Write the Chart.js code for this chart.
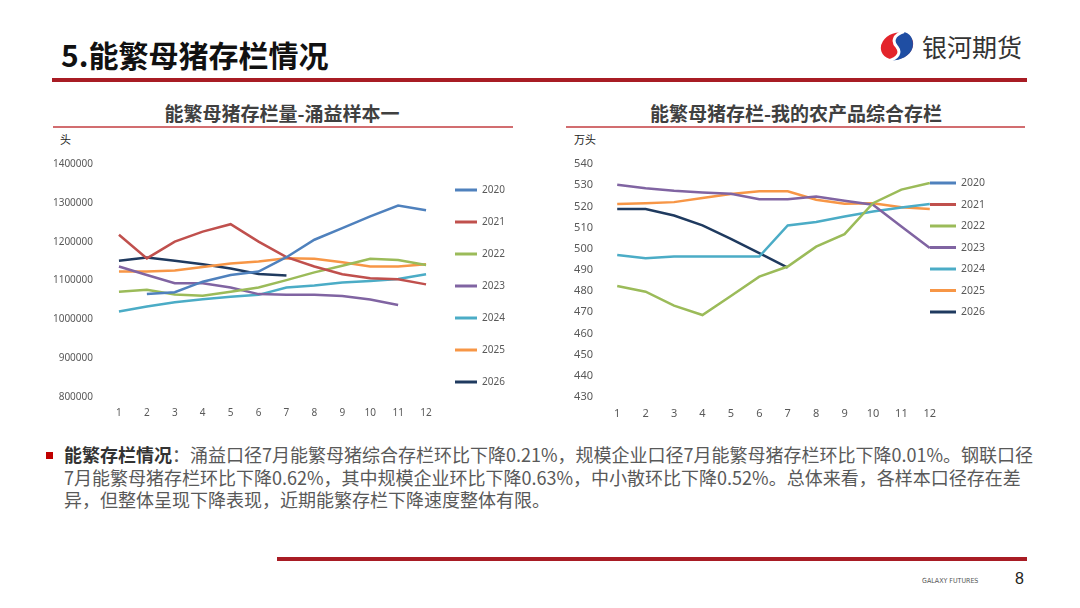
<!DOCTYPE html>
<html>
<head>
<meta charset="utf-8">
<script src="https://cdn.jsdelivr.net/npm/chart.js@4/dist/chart.umd.min.js"></script>
<style>
  body { margin: 0; background: #fff; }
  #page { position: relative; width: 1080px; height: 608px; overflow: hidden; background: #fff;
    font-family: "Noto Sans CJK SC", "Noto Sans", sans-serif; }
  .abs { position: absolute; white-space: nowrap; }
  #title { left: 61px; top: 36px; font-size: 30px; font-weight: bold; color: #111; line-height: 36px; }
  #brand { left: 922px; top: 30px; font-size: 25px; color: #333; line-height: 32px; }
  .redbar { position: absolute; background: #a81c24; }
  .ctitle { font-size: 19px; font-weight: bold; color: #404040; line-height: 22px; transform: translateX(-50%); }
  .cline { position: absolute; height: 1.5px; background: #d26d70; }
  .unit { font-size: 11px; color: #222; line-height: 14px; }
  canvas { position: absolute; }
  #note { left: 64px; top: 443px; font-size: 18px; line-height: 22.7px; color: #595959; }
  #note b { color: #333; }
  #bullet { left: 46px; top: 452px; width: 7px; height: 7px; background: #c00000; }
  #galaxy { left: 922px; top: 577px; font-size: 7px; color: #555; font-family: "Liberation Sans Narrow", "DejaVu Sans Condensed", sans-serif; }
  #pnum { left: 1015px; top: 570px; font-size: 16px; color: #222; font-family: "Liberation Sans", sans-serif; }
</style>
</head>
<body>
<div id="page">
  <div class="abs" id="title">5.能繁母猪存栏情况</div>
  <svg class="abs" style="left:879px;top:30px" width="36" height="32" viewBox="0 0 36 32">
    <ellipse cx="18" cy="16" rx="16.5" ry="13" fill="#e3242b" transform="rotate(-20 18 16)"/>
    <path d="M22 2 C30 1 36 9 33.5 18 C31 26 21 31 11 30.5 C19 27 22 22 18 17 C14 12 15 5 22 2 Z" fill="#1f4ea3"/>
    <path d="M25 1.5 C14 5 13 12 18 17 C22 22 20 28 9 31" fill="none" stroke="#fff" stroke-width="3"/>
  </svg>
  <div class="abs" id="brand">银河期货</div>
  <div class="redbar" style="left:52px;top:78px;width:975px;height:3.5px"></div>

  <div class="abs ctitle" style="left:282px;top:102px">能繁母猪存栏量-涌益样本一</div>
  <div class="cline" style="left:53px;top:126px;width:460px"></div>
  <div class="abs unit" style="left:60px;top:132px">头</div>
  <canvas id="leftChart" style="left:40px;top:130px" width="480" height="295"></canvas>

  <div class="abs ctitle" style="left:796px;top:102px">能繁母猪存栏-我的农产品综合存栏</div>
  <div class="cline" style="left:566px;top:126px;width:459px"></div>
  <div class="abs unit" style="left:574px;top:132px">万头</div>
  <canvas id="rightChart" style="left:550px;top:130px" width="480" height="295"></canvas>

  <div class="abs" id="bullet"></div>
  <div class="abs" id="note"><b>能繁存栏情况</b>：涌益口径7月能繁母猪综合存栏环比下降0.21%，规模企业口径7月能繁母猪存栏环比下降0.01%。钢联口径<br>7月能繁母猪存栏环比下降0.62%，其中规模企业环比下降0.63%，中小散环比下降0.52%。总体来看，各样本口径存在差<br>异，但整体呈现下降表现，近期能繁存栏下降速度整体有限。</div>

  <div class="redbar" style="left:277px;top:557px;width:750px;height:3.5px"></div>
  <div class="abs" id="galaxy">GALAXY FUTURES</div>
  <div class="abs" id="pnum">8</div>
</div>

<script>
const months = ['1', '2', '3', '4', '5', '6', '7', '8', '9', '10', '11', '12'];
const years = ['2020', '2021', '2022', '2023', '2024', '2025', '2026'];
const yearColors = ['#4f81bd', '#c0504d', '#9bbb59', '#8064a2', '#4bacc6', '#f79646', '#1f3a5f'];

// 涌益样本一 (头)
const yongyi2020 = [null, 1065000, 1070000, 1097000, 1114000, 1123000, 1160000, 1205000, 1235000, 1265000, 1293000, 1281000];
const yongyi2021 = [1218000, 1157000, 1200000, 1226000, 1245000, 1200000, 1160000, 1136000, 1116000, 1106000, 1103000, 1090000];
const yongyi2022 = [1071000, 1076000, 1064000, 1061000, 1071000, 1082000, 1101000, 1121000, 1138000, 1156000, 1153000, 1140000];
const yongyi2023 = [1136000, 1114000, 1093000, 1093000, 1082000, 1065000, 1063000, 1063000, 1060000, 1051000, 1037000, null];
const yongyi2024 = [1020000, 1033000, 1044000, 1052000, 1058000, 1063000, 1082000, 1087000, 1095000, 1099000, 1104000, 1116000];
const yongyi2025 = [1123000, 1123000, 1126000, 1135000, 1144000, 1149000, 1157000, 1156000, 1147000, 1136000, 1136000, 1142000];
const yongyi2026 = [1151000, 1159000, 1151000, 1142000, 1131000, 1117000, 1113000];
const leftTicks = { min: 800000, max: 1400000, step: 100000 };

// 我的农产品综合存栏 (万头)
const myag2020 = [];
const myag2021 = [];
const myag2022 = [482.4, 479.7, 473.1, 468.7, 477.7, 486.8, 491.6, 501.0, 506.9, 521.5, 527.9, 531.0];
const myag2023 = [530.2, 528.6, 527.4, 526.6, 526.0, 523.4, 523.4, 524.7, 522.6, 520.8, 510.5, 500.3];
const myag2024 = [497.0, 495.5, 496.3, 496.3, 496.3, 496.3, 511.0, 512.6, 515.2, 517.6, 519.5, 521.1];
const myag2025 = [521.1, 521.5, 522.0, 523.9, 525.8, 527.1, 527.1, 523.1, 521.2, 521.5, 519.6, 518.7];
const myag2026 = [518.7, 518.7, 515.7, 511.0, 504.7, 497.9, 491.1];
const rightTicks = { min: 430, max: 540, step: 10 };

const leftSeries = [yongyi2020, yongyi2021, yongyi2022, yongyi2023, yongyi2024, yongyi2025, yongyi2026];
const rightSeries = [myag2020, myag2021, myag2022, myag2023, myag2024, myag2025, myag2026];

// legend drawn by hand so the spacing matches the picture
const sideLegend = {
  id: 'sideLegend',
  afterDraw(chart, args, opts) {
    const ctx = chart.ctx;
    ctx.save();
    ctx.font = opts.font;
    ctx.textBaseline = 'middle';
    chart.data.datasets.forEach((ds, i) => {
      const y = opts.y0 + i * opts.gap;
      ctx.strokeStyle = ds.borderColor;
      ctx.lineWidth = 3;
      ctx.beginPath();
      ctx.moveTo(opts.x, y);
      ctx.lineTo(opts.x + opts.len, y);
      ctx.stroke();
      ctx.fillStyle = '#595959';
      ctx.fillText(ds.label, opts.x + opts.len + 5, y + 0.5);
    });
    ctx.restore();
  }
};

function makeChart(id, series, ticks, area, legend, fontSize) {
  const datasets = series.map((data, i) => ({
    label: years[i],
    data: data,
    borderColor: yearColors[i],
    backgroundColor: yearColors[i],
    borderWidth: 2.5,
    pointRadius: 0,
    tension: 0,
    spanGaps: false
  }));
  return new Chart(document.getElementById(id), {
    type: 'line',
    data: { labels: months, datasets: datasets },
    plugins: [sideLegend],
    options: {
      responsive: false,
      animation: false,
      layout: { padding: { left: 0, top: area.top, right: area.right, bottom: 0 } },
      plugins: {
        legend: { display: false },
        tooltip: { enabled: false },
        sideLegend: legend
      },
      scales: {
        x: {
          offset: true,
          grid: { display: false, drawTicks: false },
          border: { display: false },
          ticks: { color: '#595959', padding: 10, font: { family: 'Noto Sans', size: fontSize } },
          afterFit: s => { s.height = area.xh; }
        },
        y: {
          min: ticks.min,
          max: ticks.max,
          grid: { display: false, drawTicks: false },
          border: { display: false },
          ticks: {
            stepSize: ticks.step,
            color: '#595959',
            padding: area.ypad,
            font: { family: 'Noto Sans', size: fontSize },
            callback: v => String(v)
          },
          afterFit: s => { s.width = area.yw; }
        }
      }
    }
  });
}

makeChart('leftChart', leftSeries, leftTicks,
  { top: 34, right: 80, xh: 28, yw: 65, ypad: 12 },
  { x: 415, y0: 60, gap: 32, len: 22, font: '10px "Noto Sans"' }, 10);

makeChart('rightChart', rightSeries, rightTicks,
  { top: 34, right: 86, xh: 28, yw: 53, ypad: 10 },
  { x: 380, y0: 53, gap: 21.5, len: 26, font: '10.5px "Noto Sans"' }, 11);
</script>
</body>
</html>
